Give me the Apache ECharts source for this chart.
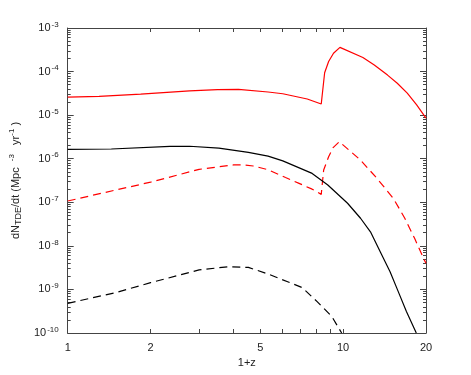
<!DOCTYPE html>
<html>
<head>
<meta charset="utf-8">
<script src="https://cdn.jsdelivr.net/npm/echarts@6/dist/echarts.min.js"></script>
<style>
  html, body { margin: 0; padding: 0; background: #fff; }
  #tdeRate { width: 471px; height: 375px; }
</style>
</head>
<body>
<div id="tdeRate"></div>
<script>
// 1+z ticks and labels
var xTicks = [1, 2, 3, 4, 5, 6, 7, 8, 9, 10, 20]
var xLabels = [1, 2, 5, 10, 20]
var yDecades = [1e-10, 1e-9, 1e-8, 1e-7, 1e-6, 1e-5, 1e-4, 1e-3]

// curves, [1+z, dN/dt]
var redSolid = [[1, 2.6e-5], [1.3, 2.7e-5], [1.84, 3.05e-5], [2.77, 3.6e-5], [3.5, 3.85e-5], [4.17, 3.9e-5],
  [5.34, 3.4e-5], [6.04, 3.1e-5], [7.41, 2.35e-5], [8.33, 1.8e-5], [8.57, 9.4e-5], [8.86, 1.7e-4],
  [9.23, 2.63e-4], [9.74, 3.6e-4], [11.8, 2.1e-4], [12.98, 1.42e-4], [14.5, 8.3e-5], [15.73, 5.4e-5],
  [17.1, 3.2e-5], [18.5, 1.72e-5], [20, 8.5e-6]]
var redDashed = [[1, 1.07e-7], [1.32, 1.6e-7], [2.0, 2.9e-7], [3.0, 5.7e-7], [4.0, 7.2e-7], [4.35, 7.2e-7],
  [4.72, 6.8e-7], [5.34, 5.6e-7], [6.18, 3.7e-7], [6.92, 2.72e-7], [7.72, 2.0e-7], [8.33, 1.52e-7],
  [8.5, 5.5e-7], [8.86, 1.11e-6], [9.2, 1.8e-6], [9.69, 2.45e-6], [11.57, 9.3e-7], [13.27, 3.55e-7],
  [15.22, 1.23e-7], [16.75, 4.3e-8], [18.18, 1.49e-8], [19.73, 4.7e-9], [20, 4.0e-9]]
var blackSolid = [[1, 1.64e-6], [1.44, 1.67e-6], [2.35, 1.92e-6], [2.77, 1.93e-6], [3.54, 1.75e-6],
  [4.53, 1.4e-6], [5.34, 1.15e-6], [6.04, 8.9e-7], [7.72, 4.6e-7], [8.8, 2.5e-7], [10.38, 9.5e-8],
  [11.57, 4.3e-8], [12.57, 2.1e-8], [13.64, 7.3e-9], [14.81, 2.55e-9], [15.86, 8.9e-10],
  [16.98, 3.1e-10], [18.44, 1e-10]]
var blackDashed = [[1, 4.8e-10], [1.5, 8.5e-10], [2.0, 1.43e-9], [3.0, 2.8e-9], [3.84, 3.33e-9],
  [4.53, 3.2e-9], [5.3, 2.3e-9], [6.29, 1.5e-9], [7.11, 1.1e-9], [8.05, 5.25e-10], [9.1, 2.4e-10],
  [9.88, 1e-10]]

var yMinor = []
for (var i = 0; i < yDecades.length - 1; i++) {
  for (var k = 2; k <= 9; k++) yMinor.push(k * yDecades[i])
}

var frameColor = '#444'
var textColor = '#222'
var fontFamily = '"Liberation Sans", Arial, sans-serif'

function xAxisCfg(pos, withLabels) {
  return {
    type: 'log', logBase: 10, min: 1, max: 20, position: pos,
    axisLine: { show: true, lineStyle: { color: frameColor, width: 1 } },
    axisTick: { show: true, inside: true, length: 4, customValues: xTicks, lineStyle: { color: frameColor } },
    axisLabel: {
      show: withLabels, customValues: xLabels, margin: 9, color: textColor,
      fontFamily: fontFamily, fontSize: 11
    },
    splitLine: { show: false },
    name: withLabels ? '1+z' : '', nameLocation: 'middle', nameGap: 19,
    nameTextStyle: { color: textColor, fontFamily: fontFamily, fontSize: 11 }
  }
}

function yAxisCfg(pos, ticks, len, withLabels, withLine) {
  return {
    type: 'log', logBase: 10, min: 1e-10, max: 1e-3, position: pos,
    axisLine: { show: withLine, lineStyle: { color: frameColor, width: 1 } },
    axisTick: { show: true, inside: true, length: len, customValues: ticks, lineStyle: { color: frameColor } },
    axisLabel: {
      show: withLabels, customValues: yDecades, margin: 9, color: textColor,
      fontFamily: fontFamily, fontSize: 11,
      formatter: function (v) {
        return '10{sup|' + Math.round(Math.log10(v)) + '}'
      },
      rich: { sup: { fontSize: 8, fontFamily: fontFamily, color: textColor, padding: [0, 0, 7, 1] } }
    },
    splitLine: { show: false },
    name: withLabels ? 'dN{sub|TDE}/dt (Mpc  {sup|-3}   yr{sup|-1} )' : '',
    nameLocation: 'middle', nameGap: 37, nameRotate: 90,
    nameTextStyle: {
      color: textColor, fontFamily: fontFamily, fontSize: 11,
      rich: {
        sub: { fontSize: 9, fontFamily: fontFamily, color: textColor, padding: [6, 0, 0, 0] },
        sup: { fontSize: 8, fontFamily: fontFamily, color: textColor, padding: [0, 0, 7, 0] }
      }
    }
  }
}

function lineSeries(data, color, dashed) {
  return {
    type: 'line', data: data, xAxisIndex: 0, yAxisIndex: 0,
    showSymbol: false, smooth: false, clip: true,
    lineStyle: { color: color, width: 1.2, type: dashed ? [8, 5] : 'solid' }
  }
}

var myChart = echarts.init(document.getElementById('tdeRate'))
var option = {
  animation: false,
  backgroundColor: '#fff',
  grid: { left: 61, right: 45, top: 28, bottom: 42 },
  xAxis: [xAxisCfg('bottom', true), xAxisCfg('top', false)],
  yAxis: [
    yAxisCfg('left', yDecades, 6, true, true),
    yAxisCfg('left', yMinor, 3, false, false),
    yAxisCfg('right', yDecades, 6, false, true),
    yAxisCfg('right', yMinor, 3, false, false)
  ],
  series: [
    lineSeries(redSolid, '#ff0000', false),
    lineSeries(redDashed, '#ff0000', true),
    lineSeries(blackSolid, '#000000', false),
    lineSeries(blackDashed, '#000000', true)
  ]
}
myChart.setOption(option)
</script>
</body>
</html>
